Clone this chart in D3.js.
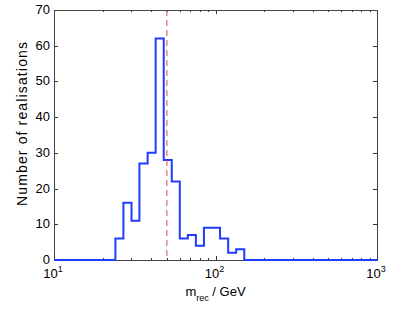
<!DOCTYPE html>
<html>
<head>
<meta charset="utf-8">
<script src="https://cdn.jsdelivr.net/npm/d3@7.9.0/dist/d3.min.js"></script>
<style>
  body { margin: 0; background: #fff; }
  text { font-family: "Liberation Sans", Arial, sans-serif; fill: #000; }
</style>
</head>
<body>
<div id="chart"></div>
<script>
// histogram bin edges (GeV) and counts
const binEdges = [24.0, 26.9, 30.2, 33.8, 38.0, 42.6, 47.8, 53.6, 60.1, 67.4, 75.6, 84.8, 95.2, 106.7, 119.8, 134.3, 150.7];
const counts = [6, 16, 11, 27, 30, 62, 28, 22, 6, 7, 4, 9, 9, 6, 2, 3];
const xDomain = [10, 1000];
const yDomain = [0, 70];
const yTicks = [0, 10, 20, 30, 40, 50, 60, 70];
const xMajor = [10, 100, 1000];
const refMass = 50;

const width = 415, height = 309;
const margin = { top: 10, right: 38, bottom: 49, left: 54 };

const svg = d3.select("#chart").append("svg")
  .attr("width", width)
  .attr("height", height);

const x = d3.scaleLog().domain(xDomain).range([margin.left, width - margin.right]);
const y = d3.scaleLinear().domain(yDomain).range([height - margin.bottom, margin.top]);

// minor log ticks
const minor = [];
for (let d = 10; d < 1000; d *= 10) {
  for (let k = 2; k <= 9; k++) minor.push(d * k);
}

const x0 = x.range()[0], x1 = x.range()[1];
const y0 = y.range()[0], y1 = y.range()[1];

const ticks = svg.append("g").attr("stroke", "#333").attr("stroke-width", 1);
minor.forEach(v => {
  const px = Math.round(x(v)) + 0.5;
  ticks.append("line").attr("x1", px).attr("x2", px).attr("y1", y0).attr("y2", y0 - 2);
  ticks.append("line").attr("x1", px).attr("x2", px).attr("y1", y1).attr("y2", y1 + 2);
});
xMajor.forEach(v => {
  const px = Math.round(x(v)) + 0.5;
  ticks.append("line").attr("x1", px).attr("x2", px).attr("y1", y0).attr("y2", y0 - 4);
  ticks.append("line").attr("x1", px).attr("x2", px).attr("y1", y1).attr("y2", y1 + 4);
});
yTicks.forEach(v => {
  const py = Math.round(y(v)) + 0.5;
  ticks.append("line").attr("x1", x0).attr("x2", x0 + 4).attr("y1", py).attr("y2", py);
  ticks.append("line").attr("x1", x1).attr("x2", x1 - 4).attr("y1", py).attr("y2", py);
});

// box
svg.append("rect")
  .attr("x", x0 + 0.5).attr("y", y1 + 0.5)
  .attr("width", x1 - x0).attr("height", y0 - y1)
  .attr("fill", "none").attr("stroke", "#444").attr("stroke-width", 1);

// step line with zero bins out to the axis limits
const pts = [[xDomain[0], 0], [binEdges[0], 0]];
counts.forEach((c, i) => {
  pts.push([binEdges[i], c]);
  pts.push([binEdges[i + 1], c]);
});
pts.push([binEdges[binEdges.length - 1], 0]);
pts.push([xDomain[1], 0]);

svg.append("path")
  .datum(pts)
  .attr("fill", "none")
  .attr("stroke", "#1f3cff")
  .attr("stroke-width", 2)
  .attr("stroke-linejoin", "miter")
  .attr("d", d3.line().x(d => x(d[0])).y(d => y(d[1])));

// reference mass line
svg.append("line")
  .attr("x1", x(refMass)).attr("x2", x(refMass))
  .attr("y1", y1).attr("y2", y0)
  .attr("stroke", "#d84a50")
  .attr("stroke-width", 1)
  .attr("stroke-dasharray", "6,4");

// y tick labels
svg.append("g").selectAll("text")
  .data(yTicks).join("text")
  .attr("x", x0 - 4)
  .attr("y", d => y(d) + 4)
  .attr("text-anchor", "end")
  .attr("font-size", 13)
  .text(d => d);

// x tick labels 10^n
const xl = svg.append("g").selectAll("text")
  .data(xMajor).join("text")
  .attr("x", d => x(d) - 1)
  .attr("y", y0 + 18)
  .attr("text-anchor", "middle")
  .attr("font-size", 13);
xl.append("tspan").text("10");
xl.append("tspan").attr("dy", -6).attr("font-size", 9).text(d => Math.round(Math.log10(d)));

// axis labels
svg.append("text")
  .attr("transform", "translate(27,206) rotate(-90)")
  .attr("text-anchor", "start")
  .attr("font-size", 14)
  .attr("textLength", 164)
  .attr("lengthAdjust", "spacing")
  .text("Number of realisations");

const xt = svg.append("text")
  .attr("x", (x0 + x1) / 2)
  .attr("y", y0 + 36)
  .attr("text-anchor", "middle")
  .attr("font-size", 13);
xt.append("tspan").text("m");
xt.append("tspan").attr("dy", 5).attr("font-size", 9).text("rec");
xt.append("tspan").attr("dy", -5).text(" / GeV");
</script>
</body>
</html>
